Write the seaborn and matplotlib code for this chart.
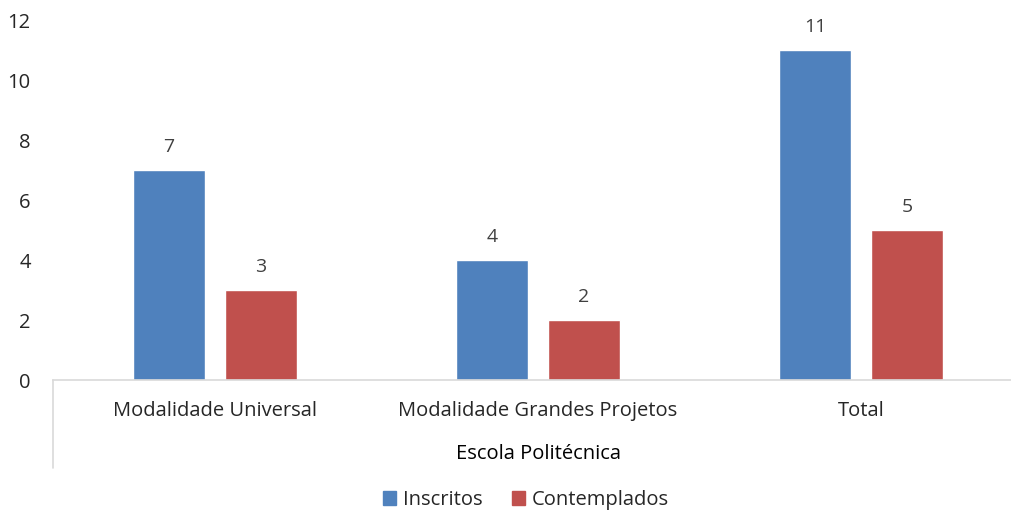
import pandas as pd
import seaborn as sns
import matplotlib.pyplot as plt

categorias = ['Modalidade Universal', 'Modalidade Grandes Projetos', 'Total']
inscritos = [7, 4, 11]
contemplados = [3, 2, 5]
series = ['Inscritos', 'Contemplados']
grupo = 'Escola Politécnica'

df = pd.DataFrame({'categoria': categorias, 'Inscritos': inscritos, 'Contemplados': contemplados})
df = df.melt(id_vars='categoria', var_name='serie', value_name='valor')

sns.set_theme(style='white')
plt.rcParams['font.family'] = ['Open Sans', 'DejaVu Sans']

fig = plt.figure(figsize=(10.12, 5.13), dpi=100)
ax = fig.add_axes([53 / 1012, 1 - 380 / 513, 970 / 1012, 360 / 513])

ax = sns.barplot(data=df, x='categoria', y='valor', hue='serie', hue_order=series,
                 palette=['#4F81BD', '#C0504D'], width=0.569, gap=0.217,
                 saturation=1, ax=ax, legend=False)

for cont in ax.containers:
    ax.bar_label(cont, padding=10, fontsize=14, color='#404040')

ax.set_ylim(0, 12)
ax.set_xlim(-0.5, 2.5)
ax.set_yticks(range(0, 13, 2))
ax.tick_params(axis='y', length=0, pad=16, labelsize=14.5)
ax.tick_params(axis='x', length=0, pad=15, labelsize=14.5)
ax.set_xlabel('')
ax.set_ylabel('')
for s in ['top', 'right', 'left']:
    ax.spines[s].set_visible(False)
ax.spines['bottom'].set_color('#D9D9D9')
ax.spines['bottom'].set_linewidth(1.2)

# linha vertical do eixo de categorias em dois niveis
ax.plot([0, 0], [0, -88 / 360], transform=ax.transAxes, color='#D9D9D9',
        linewidth=1.2, clip_on=False)
ax.text((538 - 53) / 970, -(454 - 380) / 360, grupo, transform=ax.transAxes,
        ha='center', va='center', fontsize=14.5, color='black')

handles = [plt.Rectangle((0, 0), 1, 1, color=c) for c in ['#4F81BD', '#C0504D']]
fig.legend(handles, series, loc='lower center', bbox_to_anchor=(526 / 1012, -0.03),
           ncol=2, frameon=False, fontsize=14.5, handlelength=0.65, handleheight=0.65,
           handletextpad=0.3, columnspacing=1.5)

fig.savefig('out.png', dpi=100)
